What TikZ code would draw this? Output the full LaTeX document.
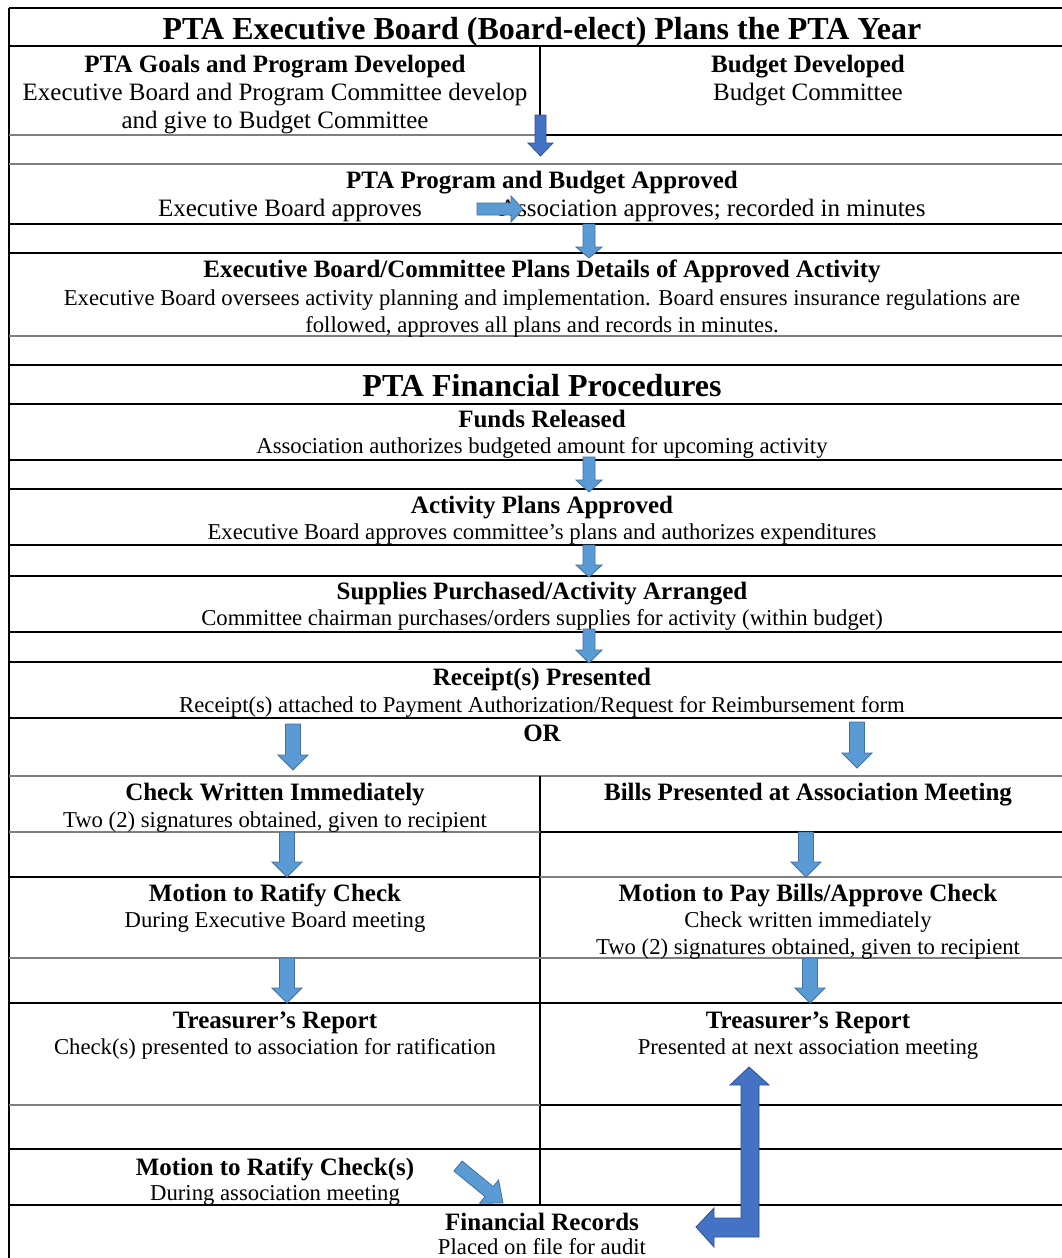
\documentclass[tikz,border=0pt]{standalone}
\usepackage{fontspec}
\setmainfont{Liberation Serif}
\definecolor{darkfill}{HTML}{4472C4}
\definecolor{darkline}{HTML}{2F528F}
\definecolor{lightfill}{HTML}{5B9BD5}
\definecolor{lightline}{HTML}{41719C}
\definecolor{rulegray}{HTML}{7F7F7F}
% style, x, ytop, ybase, shafthalf, headhalf, ytip
\newcommand\blkdown[7]{\filldraw[#1] ({#2-#5},#3) -- ({#2+#5},#3) -- ({#2+#5},#4) -- ({#2+#6},#4) -- (#2,#7) -- ({#2-#6},#4) -- ({#2-#5},#4) -- cycle;}
\begin{document}
\begin{tikzpicture}[x=1pt,y=-1pt,
  ttl/.style={font=\fontsize{32}{38}\selectfont\bfseries, anchor=base, inner sep=0pt},
  hd/.style={font=\fontsize{25}{30}\selectfont\bfseries, anchor=base, inner sep=0pt},
  bodyA/.style={font=\fontsize{25}{30}\selectfont, anchor=base, inner sep=0pt},
  bodyB/.style={font=\fontsize{22.7}{27}\selectfont, anchor=base, inner sep=0pt},
  thinrule/.style={line width=1.2pt, black},
  thickrule/.style={line width=2.5pt, black},
  grayrule/.style={line width=2pt, rulegray},
  lightarr/.style={fill=lightfill, draw=lightline, line width=0.8pt},
  darkarr/.style={fill=darkfill, draw=darkline, line width=0.8pt}]
\useasboundingbox (0,0) rectangle (1062,1258);
\fill[white] (0,0) rectangle (1062,1258);

% ---- table rules ----
\draw[line width=1.5pt] (9,8) -- (1062,8);
\draw[line width=1.5pt] (9,8) -- (9,1258);
\draw[thickrule] (9,46) -- (1062,46);
\draw[line width=1.5pt] (540,46) -- (540,135);
\draw[grayrule] (9,135) -- (540,135);
\draw[thickrule] (540,135) -- (1062,135);
\draw[grayrule] (9,164) -- (1062,164);
\draw[thinrule] (9,224) -- (1062,224);
\draw[thinrule] (9,253) -- (1062,253);
\draw[grayrule] (9,336) -- (1062,336);
\draw[thinrule] (9,365) -- (1062,365);
\draw[thinrule] (9,404) -- (1062,404);
\draw[thinrule] (9,460) -- (1062,460);
\draw[thinrule] (9,489) -- (1062,489);
\draw[thinrule] (9,545) -- (1062,545);
\draw[thinrule] (9,576) -- (1062,576);
\draw[thinrule] (9,632) -- (1062,632);
\draw[thinrule] (9,662) -- (1062,662);
\draw[thinrule] (9,718) -- (1062,718);
\draw[grayrule] (9,776) -- (1062,776);
\draw[line width=1.5pt] (540,776) -- (540,1205);
\draw[grayrule] (9,832) -- (540,832);
\draw[thickrule] (540,832) -- (1062,832);
\draw[thickrule] (9,877) -- (540,877);
\draw[grayrule] (540,877) -- (1062,877);
\draw[grayrule] (9,958) -- (1062,958);
\draw[line width=1.5pt] (9,1003) -- (1062,1003);
\draw[grayrule] (9,1105) -- (540,1105);
\draw[line width=2pt] (540,1105) -- (1062,1105);
\draw[line width=1.5pt] (9,1149) -- (1062,1149);
\draw[line width=1.5pt] (9,1205) -- (1062,1205);

% ---- texts ----
\node[ttl] (t0) at (542,39) {PTA Executive Board (Board-elect) Plans the PTA Year};
\node[hd] (g1) at (275,72) {PTA Goals and Program Developed};
\node[bodyA] (g2) at (275,100) {Executive Board and Program Committee develop};
\node[bodyA] (g3) at (275,128) {and give to Budget Committee};
\node[hd] (b1) at (808,72) {Budget Developed};
\node[bodyA] (b2) at (808,100) {Budget Committee};
\node[hd] (p1) at (542,188) {PTA Program and Budget Approved};
\node[bodyA] (p2) at (290,216) {Executive Board approves};
\node[bodyA, anchor=base west] (p3) at (499,216) {Association approves; recorded in minutes};
\node[hd] (e1) at (542,277) {Executive Board/Committee Plans Details of Approved Activity};
\node[bodyB] (e2) at (542,305) {Executive Board oversees activity planning and implementation. Board ensures insurance regulations are};
\node[bodyB] (e3) at (542,332) {followed, approves all plans and records in minutes.};
\node[ttl] (f0) at (542,396) {PTA Financial Procedures};
\node[hd] (f1) at (542,427) {Funds Released};
\node[bodyB] (f2) at (542,453) {Association authorizes budgeted amount for upcoming activity};
\node[hd] (a1) at (542,513) {Activity Plans Approved};
\node[bodyB] (a2) at (542,539) {Executive Board approves committee’s plans and authorizes expenditures};
\node[hd] (s1) at (542,599) {Supplies Purchased/Activity Arranged};
\node[bodyB] (s2) at (542,625) {Committee chairman purchases/orders supplies for activity (within budget)};
\node[hd] (r1) at (542,685) {Receipt(s) Presented};
\node[bodyB] (r2) at (542,712) {Receipt(s) attached to Payment Authorization/Request for Reimbursement form};
\node[hd] (or) at (542,741) {OR};
\node[hd] (c1) at (275,800) {Check Written Immediately};
\node[bodyB] (c2) at (275,827) {Two (2) signatures obtained, given to recipient};
\node[hd] (d1) at (808,800) {Bills Presented at Association Meeting};
\node[hd] (m1) at (275,901) {Motion to Ratify Check};
\node[bodyB] (m2) at (275,927) {During Executive Board meeting};
\node[hd] (n1) at (808,901) {Motion to Pay Bills/Approve Check};
\node[bodyB] (n2) at (808,927) {Check written immediately};
\node[bodyB] (n3) at (808,954) {Two (2) signatures obtained, given to recipient};
\node[hd] (tl1) at (275,1028) {Treasurer’s Report};
\node[bodyB] (tl2) at (275,1054) {Check(s) presented to association for ratification};
\node[hd] (tr1) at (808,1028) {Treasurer’s Report};
\node[bodyB] (tr2) at (808,1054) {Presented at next association meeting};
\node[hd] (v1) at (275,1175) {Motion to Ratify Check(s)};
\node[bodyB] (v2) at (275,1200) {During association meeting};
\node[hd] (fr1) at (542,1230) {Financial Records};
\node[bodyB] (fr2) at (542,1254) {Placed on file for audit};

% ---- block arrows ----
\blkdown{darkarr}{540.5}{115}{143}{5.5}{12.5}{156}
\filldraw[lightarr] (477,203) -- (511,203) -- (511,196) -- (523,209) -- (511,222) -- (511,215) -- (477,215) -- cycle;
\blkdown{lightarr}{589}{224}{247}{6}{13}{258}
\blkdown{lightarr}{589}{457}{480}{6}{13}{492}
\blkdown{lightarr}{589}{545}{565}{6}{13}{577}
\blkdown{lightarr}{589}{629}{650}{6}{13}{663}
\blkdown{lightarr}{293}{724}{755}{7.5}{15}{770}
\blkdown{lightarr}{857}{722}{753}{7.5}{15}{768}
\blkdown{lightarr}{287}{832}{862}{7.5}{15}{877}
\blkdown{lightarr}{806}{832}{862}{7.5}{15}{877}
\blkdown{lightarr}{287}{958}{988}{7.5}{15}{1003}
\blkdown{lightarr}{810}{958}{988}{7.5}{15}{1003}
% diagonal
\filldraw[lightarr] (462.1,1161.0) -- (493.2,1186.6) -- (498.6,1180.0) -- (503,1203) -- (479.6,1203.2) -- (485.0,1196.6) -- (453.9,1171.0) -- cycle;
% bent up/left arrow
\filldraw[darkarr] (749,1067) -- (769,1085) -- (759,1085) -- (759,1237) -- (714,1237) -- (714,1247) -- (696,1227) -- (714,1208) -- (714,1218) -- (741,1218) -- (741,1085) -- (730,1085) -- cycle;
\end{tikzpicture}
\end{document}
